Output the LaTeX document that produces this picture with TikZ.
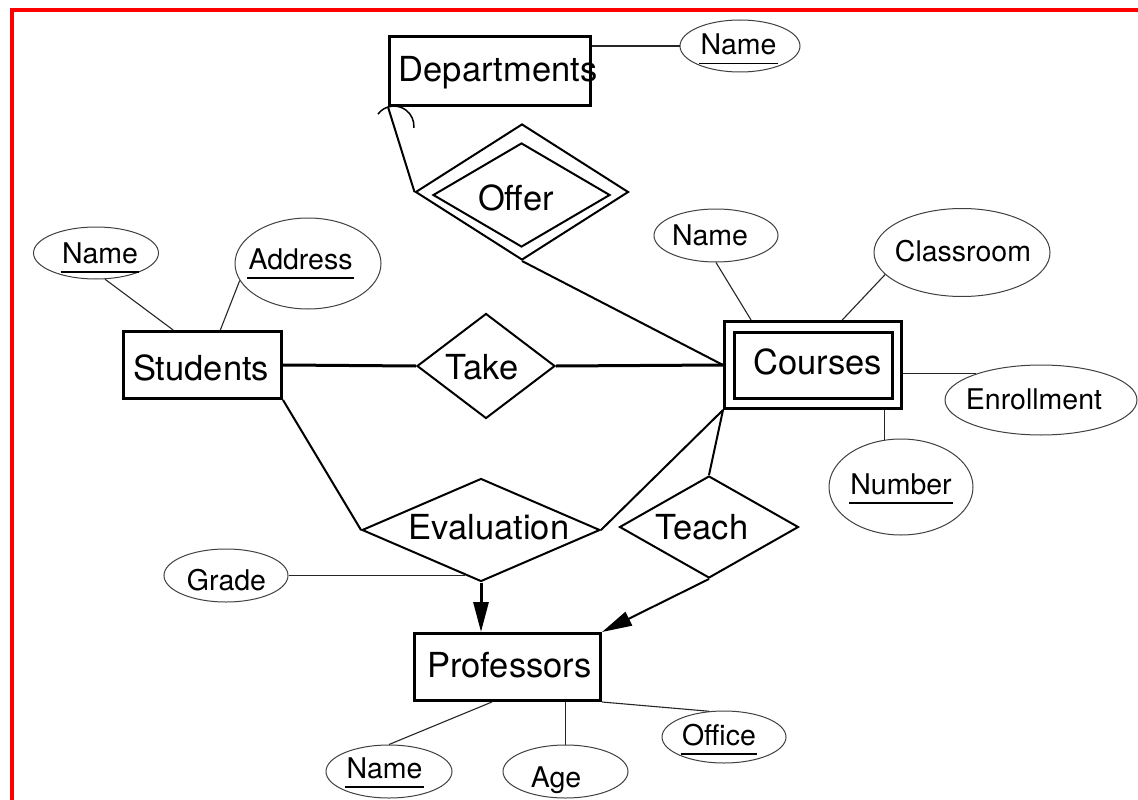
\documentclass[tikz,border=0pt]{standalone}
\usepackage{fontspec}
\setmainfont{TeX Gyre Heros}
\usetikzlibrary{shapes.geometric,arrows.meta,calc}

% text placed at an offset (dx, raise) from the node centre, taking no width
\newcommand\lbl[3]{\makebox[0pt]{\hspace*{#1}\raisebox{#2}{#3}\hspace*{-#1}}}
% key attribute: underlined name
\newcommand\keyname[1]{\setbox0=\hbox{#1}\rlap{\hspace*{-1.5pt}\raisebox{-9.5pt}{\rule{\dimexpr\wd0+3pt\relax}{1.8pt}}}\box0}

\begin{document}
\begin{tikzpicture}[x=1pt,y=-1pt,
  entity/.style={draw, line width=3pt, rectangle, inner sep=0pt,
    font=\fontsize{34.5}{40}\selectfont, text height=25pt, text depth=0pt},
  rel/.style={draw, line width=2pt, diamond, inner sep=0pt,
    font=\fontsize{34.5}{40}\selectfont, text height=25pt, text depth=0pt},
  attr/.style={draw=black!75, line width=1pt, ellipse, inner sep=0pt,
    font=\fontsize{28.5}{34}\selectfont, text height=20pt, text depth=0pt},
  link/.style={line width=2pt},
  strong/.style={line width=3pt},
  attrlink/.style={line width=1.1pt, black!85},
  arrowtip/.style={-{Triangle[length=30pt,width=15pt]}}
]
\clip (0,0) rectangle (1138,800);
\fill[white] (0,0) rectangle (1138,800);
\draw[red, line width=4pt] (12,820) -- (12,10) -- (1160,10);

% entity sets
\node[entity, minimum width=201pt, minimum height=69pt] (dept) at (490,71) {\lbl{8pt}{2pt}{Departments}};
\node[entity, minimum width=158pt, minimum height=67pt] (students) at (202.5,365) {\lbl{-1.5pt}{-2.5pt}{Students}};
\node[entity, minimum width=177pt, minimum height=87pt] (courses) at (813,365) {};
\node[entity, minimum width=158pt, minimum height=66pt] (coursesin) at (813.5,365.5) {\lbl{4pt}{4pt}{Courses}};
\node[entity, minimum width=186pt, minimum height=67pt] (prof) at (507.5,667) {\lbl{2pt}{2.5pt}{Professors}};

% relationship sets
\node[rel, minimum width=213pt, minimum height=136pt] (offer) at (522,192) {};
\node[rel, minimum width=177pt, minimum height=104pt] (offerin) at (521.5,195) {\lbl{-5.5pt}{-2.5pt}{Offer}};
\node[rel, minimum width=138pt, minimum height=105pt] (take) at (486,366) {\lbl{-4pt}{-1pt}{Take}};
\node[rel, minimum width=238pt, minimum height=103pt] (eval) at (481,530) {\lbl{8pt}{3pt}{Evaluation}};
\node[rel, minimum width=179pt, minimum height=102pt] (teach) at (709,527) {\lbl{-7pt}{0pt}{Teach}};

% attributes
\node[attr, minimum width=120pt, minimum height=52pt] (deptname) at (740,46) {\lbl{-1.5pt}{1pt}{\keyname{Name}}};
\node[attr, minimum width=125pt, minimum height=52pt] (sname) at (96,253) {\lbl{4pt}{0pt}{\keyname{Name}}};
\node[attr, minimum width=146pt, minimum height=91pt] (address) at (308,263.5) {\lbl{-7.5pt}{4.5pt}{\keyname{Address}}};
\node[attr, minimum width=124pt, minimum height=53pt] (cname) at (716,235.5) {\lbl{-6pt}{0pt}{Name}};
\node[attr, minimum width=176pt, minimum height=88pt] (classroom) at (962,252.5) {\lbl{1pt}{1pt}{Classroom}};
\node[attr, minimum width=192pt, minimum height=70pt] (enroll) at (1041,400) {\lbl{-7pt}{1pt}{Enrollment}};
\node[attr, minimum width=144pt, minimum height=96pt] (number) at (901,487) {\lbl{0pt}{3pt}{\keyname{Number}}};
\node[attr, minimum width=124pt, minimum height=53pt] (grade) at (226,575.5) {\lbl{0.5pt}{-4.5pt}{Grade}};
\node[attr, minimum width=126pt, minimum height=53pt] (pname) at (389,771.5) {\lbl{-4.5pt}{3pt}{\keyname{Name}}};
\node[attr, minimum width=125pt, minimum height=53pt] (age) at (565.5,771.5) {\lbl{-9.5pt}{-6pt}{Age}};
\node[attr, minimum width=124pt, minimum height=52pt] (office) at (724,737) {\lbl{-5pt}{2pt}{\keyname{Office}}};

% attribute links
\draw[attrlink] (deptname.west) -- (deptname.west -| dept.east);
\draw[attrlink] (sname.289) -- (students.130);
\draw[attrlink] (address.194) -- (students.63);
\draw[attrlink] (cname.south) -- (courses.144);
\draw[attrlink] (classroom.196) -- (courses.57);
\draw[attrlink] (enroll.158) -- (enroll.158 -| courses.east);
\draw[attrlink] (number.109) -- (number.109 |- courses.south);
\draw[attrlink] (grade.east) -- (grade.east -| eval.251);
\draw[attrlink] (pname.north) -- (prof.246);
\draw[attrlink] (age.north) -- (age.north |- prof.south);
\draw[attrlink] (office.120) -- (prof.south east);

% relationship links
\draw[link] (offer.west) -- (dept.south west);
\coordinate (arcc) at ($(dept.south west)!20pt!(offer.west)$);
\draw[line width=1.5pt] ([shift={(143:20pt)}]arcc) arc[start angle=143, end angle=-5, radius=20pt];
\draw[link] (offer.south) -- (courses.west);
\draw[strong] (students.east) -- (take.west);
\draw[strong] (take.east) -- (courses.west);
\draw[link] (students.south east) -- (eval.west);
\draw[link] (courses.south west) -- (eval.east);
\draw[link] (courses.south west) -- (teach.north);
\draw[strong, arrowtip] (eval.south) -- (eval.south |- prof.north);
\draw[link, arrowtip] (teach.south) -- (prof.north east);
\end{tikzpicture}
\end{document}
